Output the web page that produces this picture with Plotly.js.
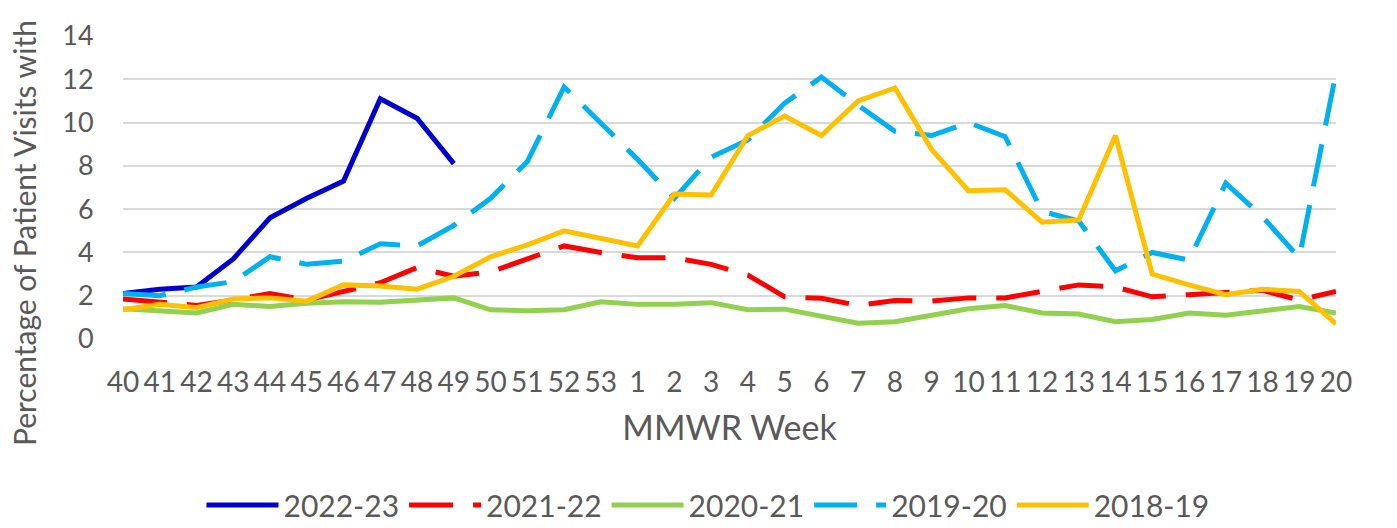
<!DOCTYPE html>
<html>
<head>
<meta charset="utf-8">
<script src="https://cdn.plot.ly/plotly-3.0.1.min.js"></script>
<style>
  html, body { margin: 0; padding: 0; background: #ffffff; }
  #chart { width: 1397px; height: 528px; }
</style>
</head>
<body>
<div id="chart"></div>
<script>
const weeks = ['40','41','42','43','44','45','46','47','48','49','50','51','52','53',
               '1','2','3','4','5','6','7','8','9','10','11','12','13','14','15','16','17','18','19','20'];

const season2022_23 = [2.1, 2.3, 2.4, 3.7, 5.6, 6.5, 7.3, 11.1, 10.2, 8.1];
const season2021_22 = [1.85, 1.7, 1.55, 1.8, 2.1, 1.8, 2.2, 2.6, 3.3, 2.9, 3.1, 3.7, 4.3, 4.0, 3.75, 3.75, 3.45, 2.95,
                       1.95, 1.88, 1.55, 1.78, 1.75, 1.9, 1.9, 2.2, 2.5, 2.4, 1.95, 2.05, 2.15, 2.25, 1.8, 2.2];
const season2020_21 = [1.4, 1.3, 1.2, 1.6, 1.5, 1.65, 1.72, 1.7, 1.8, 1.9, 1.35, 1.3, 1.35, 1.72, 1.6, 1.6, 1.68, 1.35,
                       1.38, 1.05, 0.73, 0.8, 1.1, 1.4, 1.55, 1.2, 1.15, 0.8, 0.9, 1.2, 1.1, 1.3, 1.5, 1.2];
const season2019_20 = [2.1, 2.0, 2.4, 2.65, 3.8, 3.45, 3.6, 4.4, 4.3, 5.25, 6.5, 8.2, 11.65, 10.0, 8.3, 6.5, 8.4, 9.2,
                       10.9, 12.1, 10.8, 9.6, 9.4, 10.0, 9.35, 5.9, 5.45, 3.15, 4.0, 3.65, 7.2, 5.65, 3.75, 12.3];
const season2018_19 = [1.35, 1.6, 1.45, 1.85, 1.9, 1.75, 2.5, 2.45, 2.3, 2.9, 3.8, 4.35, 5.0, 4.65, 4.3, 6.7, 6.65, 9.4,
                       10.3, 9.4, 11.0, 11.6, 8.75, 6.85, 6.9, 5.4, 5.5, 9.4, 3.0, 2.5, 2.05, 2.3, 2.2, 0.7];

const seriesNames = ['2022-23', '2021-22', '2020-21', '2019-20', '2018-19'];
const yTicks = [0, 2, 4, 6, 8, 10, 12, 14];
const xTitle = 'MMWR Week';
const yTitle = 'Percentage of Patient Visits with';

const FONT = "Lato, 'Open Sans', 'Liberation Sans', sans-serif";
const GREY = '#595959';

function mk(name, vals, color, dash) {
  return {
    type: 'scatter', mode: 'lines', name: name,
    x: weeks.slice(0, vals.length), y: vals,
    line: { color: color, width: 5, dash: dash, shape: 'linear' },
    hoverinfo: 'x+y+name'
  };
}

const data = [
  mk(seriesNames[0], season2022_23, '#0000CC', 'solid'),
  mk(seriesNames[1], season2021_22, '#FF0000', '44px,20px'),
  mk(seriesNames[2], season2020_21, '#92D050', 'solid'),
  mk(seriesNames[3], season2019_20, '#00B0F0', '43px,19px'),
  mk(seriesNames[4], season2018_19, '#FFC000', 'solid')
];

const layout = {
  width: 1397, height: 528,
  margin: { l: 123, r: 61, t: 36, b: 189, pad: 0, autoexpand: false },
  paper_bgcolor: '#ffffff', plot_bgcolor: '#ffffff',
  font: { family: FONT, color: GREY, size: 26 },
  showlegend: true,
  legend: {
    orientation: 'h', xref: 'container', yref: 'container',
    x: 708 / 1397, xanchor: 'center', y: (528 - 505) / 528, yanchor: 'middle',
    font: { family: FONT, size: 30, color: GREY },
    itemwidth: 72, traceorder: 'normal', itemclick: false, itemdoubleclick: false
  },
  xaxis: {
    type: 'category', categoryorder: 'array', categoryarray: weeks,
    range: [0, weeks.length - 1], automargin: false,
    showgrid: false, zeroline: false, showline: false,
    ticks: 'outside', ticklen: 18, tickcolor: 'rgba(0,0,0,0)',
    tickfont: { family: FONT, size: 28, color: GREY },
    tickangle: 0,
    title: { text: xTitle, font: { family: FONT, size: 34, color: GREY }, standoff: 19 }
  },
  yaxis: {
    range: [0, 14], tickvals: yTicks, ticktext: yTicks.map(String), automargin: false,
    showgrid: true, gridcolor: '#D9D9D9', gridwidth: 1.5,
    zeroline: false, showline: false,
    ticks: 'outside', ticklen: 23, tickcolor: 'rgba(0,0,0,0)',
    tickfont: { family: FONT, size: 27, color: GREY }
  },
  annotations: [{
    text: yTitle, textangle: -90, showarrow: false,
    xref: 'paper', yref: 'paper',
    x: (24 - 123) / 1213, xanchor: 'center',
    y: (339 - 448) / 303, yanchor: 'bottom',
    font: { family: FONT, size: 30, color: GREY }
  }]
};

Plotly.newPlot('chart', data, layout, { displayModeBar: false, responsive: false });
</script>
</body>
</html>
